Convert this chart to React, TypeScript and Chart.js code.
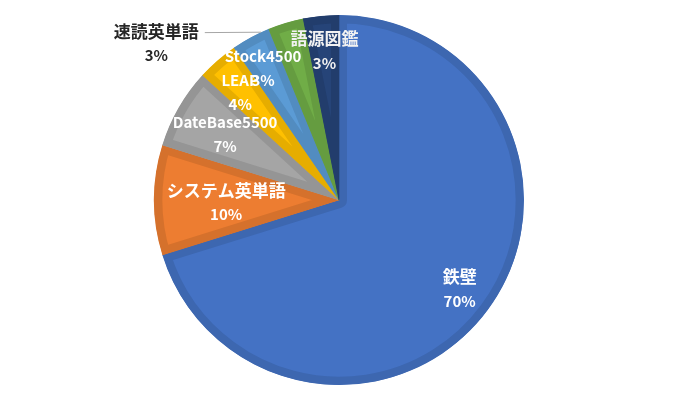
import React, { useEffect, useRef } from "react";
import { Chart, registerables } from "chart.js";

Chart.register(...registerables);

// ---- data ----
const categories = ["鉄壁", "システム英単語", "DateBase5500", "LEAP", "Stock4500", "速読英単語", "語源図鑑"];
const shares = [70.2, 9.6, 7.0, 3.6, 3.4, 3.1, 3.1];

// ---- styles ----
const sliceColors = ["#4472C4", "#ED7D31", "#A5A5A5", "#FFC000", "#5B9BD5", "#70AD47", "#264478"];
const edgeColors = ["#3D67B0", "#D5712C", "#959595", "#E6AD00", "#528CC0", "#659C40", "#223D6C"];
const labelColors = ["#FFFFFF", "#FFFFFF", "#FFFFFF", "#FFFFFF", "#FFFFFF", "#262626", "#F2F2F2"];
// label placement: fraction of radius, angle offset (deg) from slice middle
const labelPlacement = [
  { r: 0.81, d: 0, leader: false },
  { r: 0.61, d: -1.3, leader: false },
  { r: 0.71, d: 0, leader: false },
  { r: 0.79, d: -1.5, leader: false },
  { r: 0.82, d: -1.6, leader: false },
  { r: 1.30, d: -32.7, leader: true },
  { r: 0.81, d: 0, leader: false },
];

const FONT_FAMILY = '"Noto Sans CJK JP", "Noto Sans", sans-serif';
const hasCJK = (s: string) => /[\u3000-\u9fff\uff00-\uffef]/.test(s);

const labelPlugin = {
  id: "sliceLabels",
  afterDatasetsDraw(chart: any) {
    const ctx = chart.ctx;
    const meta = chart.getDatasetMeta(0);
    const total = shares.reduce((a, b) => a + b, 0);
    ctx.save();
    ctx.textAlign = "center";
    ctx.textBaseline = "middle";
    meta.data.forEach((arc: any, i: number) => {
      const { x, y, startAngle, endAngle, outerRadius } = arc.getProps(
        ["x", "y", "startAngle", "endAngle", "outerRadius"],
        true
      );
      const p = labelPlacement[i];
      const mid = (startAngle + endAngle) / 2 + (p.d * Math.PI) / 180;
      const lx = x + Math.cos(mid) * outerRadius * p.r;
      const ly = y + Math.sin(mid) * outerRadius * p.r;
      const name = categories[i];
      const pct = Math.round((shares[i] / total) * 100) + "%";
      ctx.fillStyle = labelColors[i];
      ctx.font = `bold ${hasCJK(name) ? 17 : 15}px ${FONT_FAMILY}`;
      const nameW = ctx.measureText(name).width;
      ctx.fillText(name, lx, ly - 12);
      ctx.font = `bold 15px ${FONT_FAMILY}`;
      ctx.fillText(pct, lx, ly + 12);
      if (p.leader) {
        const ea = startAngle - 0.045;
        const ex = x + Math.cos(ea) * outerRadius;
        const ey = y + Math.sin(ea) * outerRadius;
        ctx.strokeStyle = "#A6A6A6";
        ctx.lineWidth = 1;
        ctx.beginPath();
        ctx.moveTo(lx + nameW / 2 + 6, ly - 11);
        ctx.lineTo(ex, ey);
        ctx.stroke();
      }
    });
    ctx.restore();
  },
};

export default function App() {
  const ref = useRef<HTMLCanvasElement | null>(null);
  useEffect(() => {
    if (!ref.current) return;
    const chart = new Chart(ref.current, {
      type: "pie",
      data: {
        labels: categories,
        datasets: [
          {
            data: shares,
            backgroundColor: sliceColors,
            borderColor: edgeColors,
            hoverBorderColor: edgeColors,
            borderWidth: 8,
            hoverBorderWidth: 8,
            borderAlign: "inner",
          },
        ],
      },
      options: {
        responsive: false,
        animation: false,
        events: [],
        layout: { padding: { top: 15, bottom: 17, left: 0, right: 0 } },
        plugins: {
          legend: { display: false },
          tooltip: { enabled: false },
          title: { display: false },
        },
      },
      plugins: [labelPlugin],
    } as any);
    return () => chart.destroy();
  }, []);
  return (
    <div style={{ position: "fixed", left: 0, top: 0, width: 678, height: 402, background: "#FFFFFF" }}>
      <canvas ref={ref} width={678} height={402} style={{ width: 678, height: 402, display: "block" }} />
    </div>
  );
}
